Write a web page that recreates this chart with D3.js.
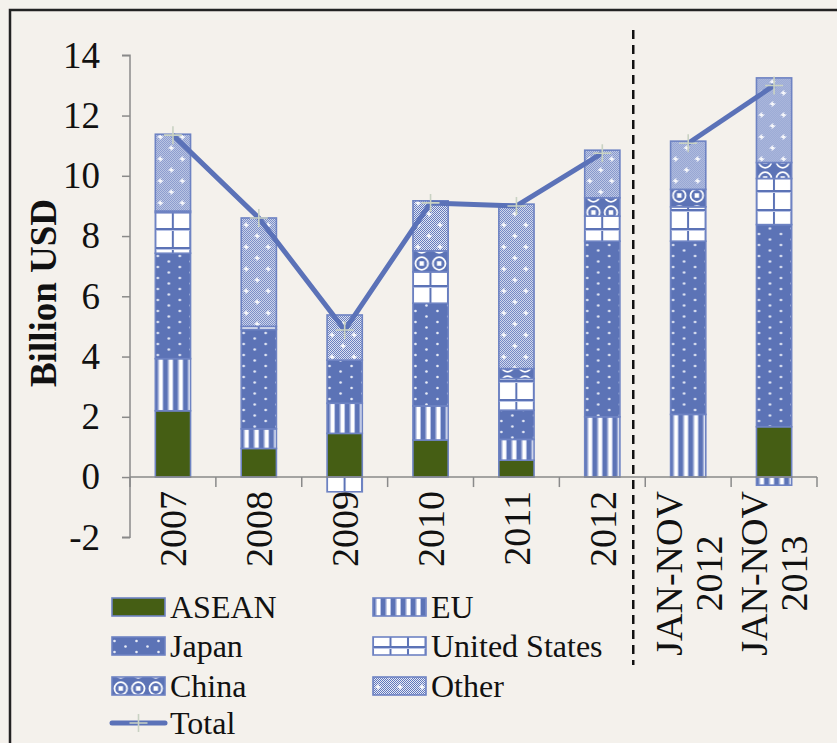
<!DOCTYPE html>
<html><head><meta charset="utf-8">
<script src="https://cdn.jsdelivr.net/npm/d3@7"></script>
<style>html,body{margin:0;padding:0;background:#f4f1ec;}svg{display:block;}</style>
</head><body>
<script>
// ---------------- DATA ----------------
const categories = ["2007","2008","2009","2010","2011","2012","JAN-NOV 2012","JAN-NOV 2013"];
const categoryLabels = [["2007"],["2008"],["2009"],["2010"],["2011"],["2012"],["JAN-NOV","2012"],["JAN-NOV","2013"]];
const seriesNames = ["ASEAN","EU","Japan","United States","China","Other"];
const asean  = [2.20, 0.95, 1.45, 1.23, 0.56, 0.00, 0.00, 1.67];
const eu     = [1.73, 0.65, 1.00, 1.13, 0.69, 2.00, 2.08, -0.27];
const japan  = [3.50, 3.30, 1.43, 3.41, 0.97, 5.83, 5.75, 6.71];
const us     = [1.35, 0.10, -0.49, 1.04, 1.05, 0.83, 1.14, 1.53];
const china  = [0.05, 0.00, 0.00, 0.70, 0.33, 0.61, 0.58, 0.53];
const other  = [2.55, 3.60, 1.50, 1.66, 5.46, 1.58, 1.60, 2.81];
const total  = [11.35, 8.60, 4.88, 9.10, 9.00, 10.75, 11.08, 13.00];
const yTicks = [-2, 0, 2, 4, 6, 8, 10, 12, 14];
const yTitle = "Billion USD";
const lineGroups = [[0,1,2,3,4,5],[6,7]];

// ---------------- SETUP ----------------
const W = 837, H = 743;
const BLUE = "#5c73b6", EDGE = "#6e83c3", GREEN = "#455e14", BG = "#f4f1ec";
const FONT = "'Liberation Serif','Times New Roman',serif";
const svg = d3.select("body").append("svg").attr("width", W).attr("height", H);
svg.append("rect").attr("width", W).attr("height", H).attr("fill", BG);
const defs = svg.append("defs");

const x = d3.scaleBand().domain(categories).range([130, 817]).paddingInner(0.59).paddingOuter(0.295);
const y = d3.scaleLinear().domain([-2, 14]).range([537.3, 55.3]);

// fine checker used by "Other"
const chk = defs.append("pattern").attr("id","chk").attr("patternUnits","userSpaceOnUse")
  .attr("width",2).attr("height",2);
chk.append("rect").attr("width",2).attr("height",2).attr("fill","#6077bb");
chk.append("rect").attr("width",1).attr("height",1).attr("fill","#e6eaf6");
chk.append("rect").attr("x",1).attr("y",1).attr("width",1).attr("height",1).attr("fill","#e6eaf6");

function makePatterns(key, x0) {
  // EU vertical stripes
  let p = defs.append("pattern").attr("id",`eu-${key}`).attr("patternUnits","userSpaceOnUse")
    .attr("x", x0).attr("y",0).attr("width",10).attr("height",10);
  p.append("rect").attr("width",10).attr("height",10).attr("fill",BLUE);
  p.append("rect").attr("x",2.5).attr("width",1).attr("height",10).attr("fill","#b9c4e6");
  p.append("rect").attr("x",3.5).attr("width",3.5).attr("height",10).attr("fill","#fff");
  p.append("rect").attr("x",7).attr("width",1).attr("height",10).attr("fill","#b9c4e6");
  // Japan dots
  p = defs.append("pattern").attr("id",`jp-${key}`).attr("patternUnits","userSpaceOnUse")
    .attr("x", x0).attr("y",0).attr("width",22).attr("height",11);
  p.append("rect").attr("width",22).attr("height",11).attr("fill",BLUE);
  p.append("circle").attr("cx",2.5).attr("cy",3).attr("r",1.3).attr("fill","#e8ecf7");
  p.append("circle").attr("cx",13.5).attr("cy",8.5).attr("r",1.3).attr("fill","#e8ecf7");
  // US grid
  p = defs.append("pattern").attr("id",`us-${key}`).attr("patternUnits","userSpaceOnUse")
    .attr("x", x0).attr("y",0).attr("width",17.5).attr("height",19);
  p.append("rect").attr("width",17.5).attr("height",19).attr("fill","#fff");
  p.append("rect").attr("x",-1).attr("width",2).attr("height",19).attr("fill",BLUE);
  p.append("rect").attr("x",16.5).attr("width",2).attr("height",19).attr("fill",BLUE);
  p.append("rect").attr("y",0).attr("width",17.5).attr("height",2).attr("fill",BLUE);
  p.append("rect").attr("y",2).attr("width",17.5).attr("height",1).attr("fill","#b9c4e6");
  // China rings
  p = defs.append("pattern").attr("id",`cn-${key}`).attr("patternUnits","userSpaceOnUse")
    .attr("x", x0).attr("y",0).attr("width",17.5).attr("height",17);
  p.append("rect").attr("width",17.5).attr("height",17).attr("fill",BLUE);
  p.append("circle").attr("cx",8.75).attr("cy",8.5).attr("r",6.3).attr("fill","none")
    .attr("stroke","#fff").attr("stroke-width",1.8);
  p.append("rect").attr("x",6.5).attr("y",6.25).attr("width",4.5).attr("height",4.5).attr("fill","#fff");
  // Other: fine checker + white sparkles
  p = defs.append("pattern").attr("id",`ot-${key}`).attr("patternUnits","userSpaceOnUse")
    .attr("x", x0).attr("y",0).attr("width",22).attr("height",22);
  p.append("rect").attr("width",22).attr("height",22).attr("fill","url(#chk)");
  [[5,5],[16,16]].forEach(([cx,cy]) => {
    p.append("rect").attr("x",cx-2.5).attr("y",cy-0.75).attr("width",5).attr("height",1.5).attr("fill","#fff");
    p.append("rect").attr("x",cx-0.75).attr("y",cy-2.5).attr("width",1.5).attr("height",5).attr("fill","#fff");
  });
}
categories.forEach((c, i) => makePatterns("c" + i, x(c)));
makePatterns("lg1", 112);
makePatterns("lg2", 373);

function fillFor(name, key) {
  switch (name) {
    case "ASEAN": return GREEN;
    case "EU": return `url(#eu-${key})`;
    case "Japan": return `url(#jp-${key})`;
    case "United States": return `url(#us-${key})`;
    case "China": return `url(#cn-${key})`;
    case "Other": return `url(#ot-${key})`;
  }
}

// frame
svg.append("rect").attr("x",10).attr("y",10).attr("width",W).attr("height",H)
  .attr("fill","none").attr("stroke","#222").attr("stroke-width",2.5);

// ---------------- AXES ----------------
const AX = "#8a8a8a";
const yAxis = svg.append("g").attr("transform",`translate(${x.range()[0]},0)`)
  .call(d3.axisLeft(y).tickValues(yTicks).tickSize(8).tickPadding(22).tickFormat(d => String(d)));
yAxis.selectAll("path,line").attr("stroke",AX).attr("stroke-width",1.5);
yAxis.selectAll("text").attr("font-family",FONT).attr("font-size",37).attr("fill","#111");
yAxis.select(".domain").attr("d",`M-8,${y(14)}H0V${y(-2)}H-8`);

svg.append("text").attr("transform",`translate(43,293) rotate(-90)`)
  .attr("text-anchor","middle").attr("dy","0.35em").attr("font-family",FONT).attr("font-weight","bold")
  .attr("font-size",37).attr("fill","#111").text(yTitle);

// ---------------- BARS ----------------
const table = categories.map((c, i) => ({
  cat: c, i,
  "ASEAN": asean[i], "EU": eu[i], "Japan": japan[i],
  "United States": us[i], "China": china[i], "Other": other[i]
}));
const stacked = d3.stack().keys(seriesNames).offset(d3.stackOffsetDiverging)(table);
const gBars = svg.append("g");
stacked.forEach(layer => {
  gBars.selectAll(null).data(layer.filter(d => d[1] !== d[0])).join("rect")
    .attr("x", d => x(d.data.cat))
    .attr("width", x.bandwidth())
    .attr("y", d => y(Math.max(d[0], d[1])))
    .attr("height", d => Math.abs(y(d[0]) - y(d[1])))
    .attr("fill", d => fillFor(layer.key, "c" + d.data.i))
    .attr("stroke", EDGE).attr("stroke-width", 1.6);
});

// x axis
const x0 = x.range()[0], x1 = x.range()[1];
const xAxisG = svg.append("g");
xAxisG.append("line").attr("x1", x0).attr("x2", x1).attr("y1", y(0)).attr("y2", y(0))
  .attr("stroke", AX).attr("stroke-width", 1.5);
const bounds = categories.map(c => x(c) - x.step() * x.paddingInner() / 2);
bounds.push(x1);
xAxisG.selectAll(null).data(bounds).join("line")
  .attr("x1", d => d).attr("x2", d => d).attr("y1", y(0)).attr("y2", y(0) + 10)
  .attr("stroke", AX).attr("stroke-width", 1.5);

// category labels
const xl = svg.append("g");
categoryLabels.forEach((lines, i) => {
  const cx = x(categories[i]) + x.bandwidth() / 2;
  const g = xl.append("g").attr("transform", `translate(${cx},${y(0) + 14}) rotate(-90)`);
  const n = lines.length, lh = 40;
  const texts = lines.map((t, k) => g.append("text")
    .attr("y", (k - (n - 1) / 2) * lh)
    .attr("dy", "0.35em")
    .attr("font-family", FONT).attr("font-size", 38).attr("fill", "#111").text(t));
  const wMax = d3.max(texts, t => t.node().getComputedTextLength());
  texts.forEach(t => t.attr("x", -wMax / 2).attr("text-anchor", "middle"));
});

// dashed separator
const sepX = x(categories[6]) - x.step() * x.paddingInner() / 2 - 12;
svg.append("line").attr("x1", sepX).attr("x2", sepX).attr("y1", 30).attr("y2", 665)
  .attr("stroke", "#111").attr("stroke-width", 2.5).attr("stroke-dasharray", "9,6");

// ---------------- TOTAL LINE ----------------
const LINE = "#5b72b8", MARK = "#c9d2c3";
const line = d3.line().x(i => x(categories[i]) + x.bandwidth() / 2).y(i => y(total[i]));
lineGroups.forEach(grp => {
  svg.append("path").attr("d", line(grp)).attr("fill", "none").attr("stroke", LINE)
    .attr("stroke-width", 5).attr("stroke-linejoin", "round");
});
function plus(g, cx, cy) {
  g.append("path").attr("d", `M${cx-9},${cy}H${cx+9}M${cx},${cy-9}V${cy+9}`)
    .attr("stroke", MARK).attr("stroke-width", 1.6).attr("fill", "none");
}
const gm = svg.append("g");
total.forEach((v, i) => plus(gm, x(categories[i]) + x.bandwidth() / 2, y(v)));

// ---------------- LEGEND ----------------
const legend = svg.append("g").attr("font-family", FONT).attr("font-size", 32).attr("fill", "#111");
const legItems = [
  ["ASEAN", 112, 607, "lg1"], ["EU", 373, 607, "lg2"],
  ["Japan", 112, 646, "lg1"], ["United States", 373, 646, "lg2"],
  ["China", 112, 686, "lg1"], ["Other", 373, 686, "lg2"]
];
legItems.forEach(([name, lx, ly, key]) => {
  legend.append("rect").attr("x", lx).attr("y", ly - 9).attr("width", 53).attr("height", 18)
    .attr("fill", fillFor(name, key)).attr("stroke", EDGE).attr("stroke-width", 1.6);
  legend.append("text").attr("x", lx + 58).attr("y", ly).attr("dy", "0.35em").text(name);
});
legend.append("line").attr("x1", 112).attr("x2", 165).attr("y1", 723).attr("y2", 723)
  .attr("stroke", LINE).attr("stroke-width", 5).attr("stroke-linecap", "round");
plus(legend, 138.5, 723);
legend.append("text").attr("x", 170).attr("y", 723).attr("dy", "0.35em").text("Total");
</script>
</body></html>
